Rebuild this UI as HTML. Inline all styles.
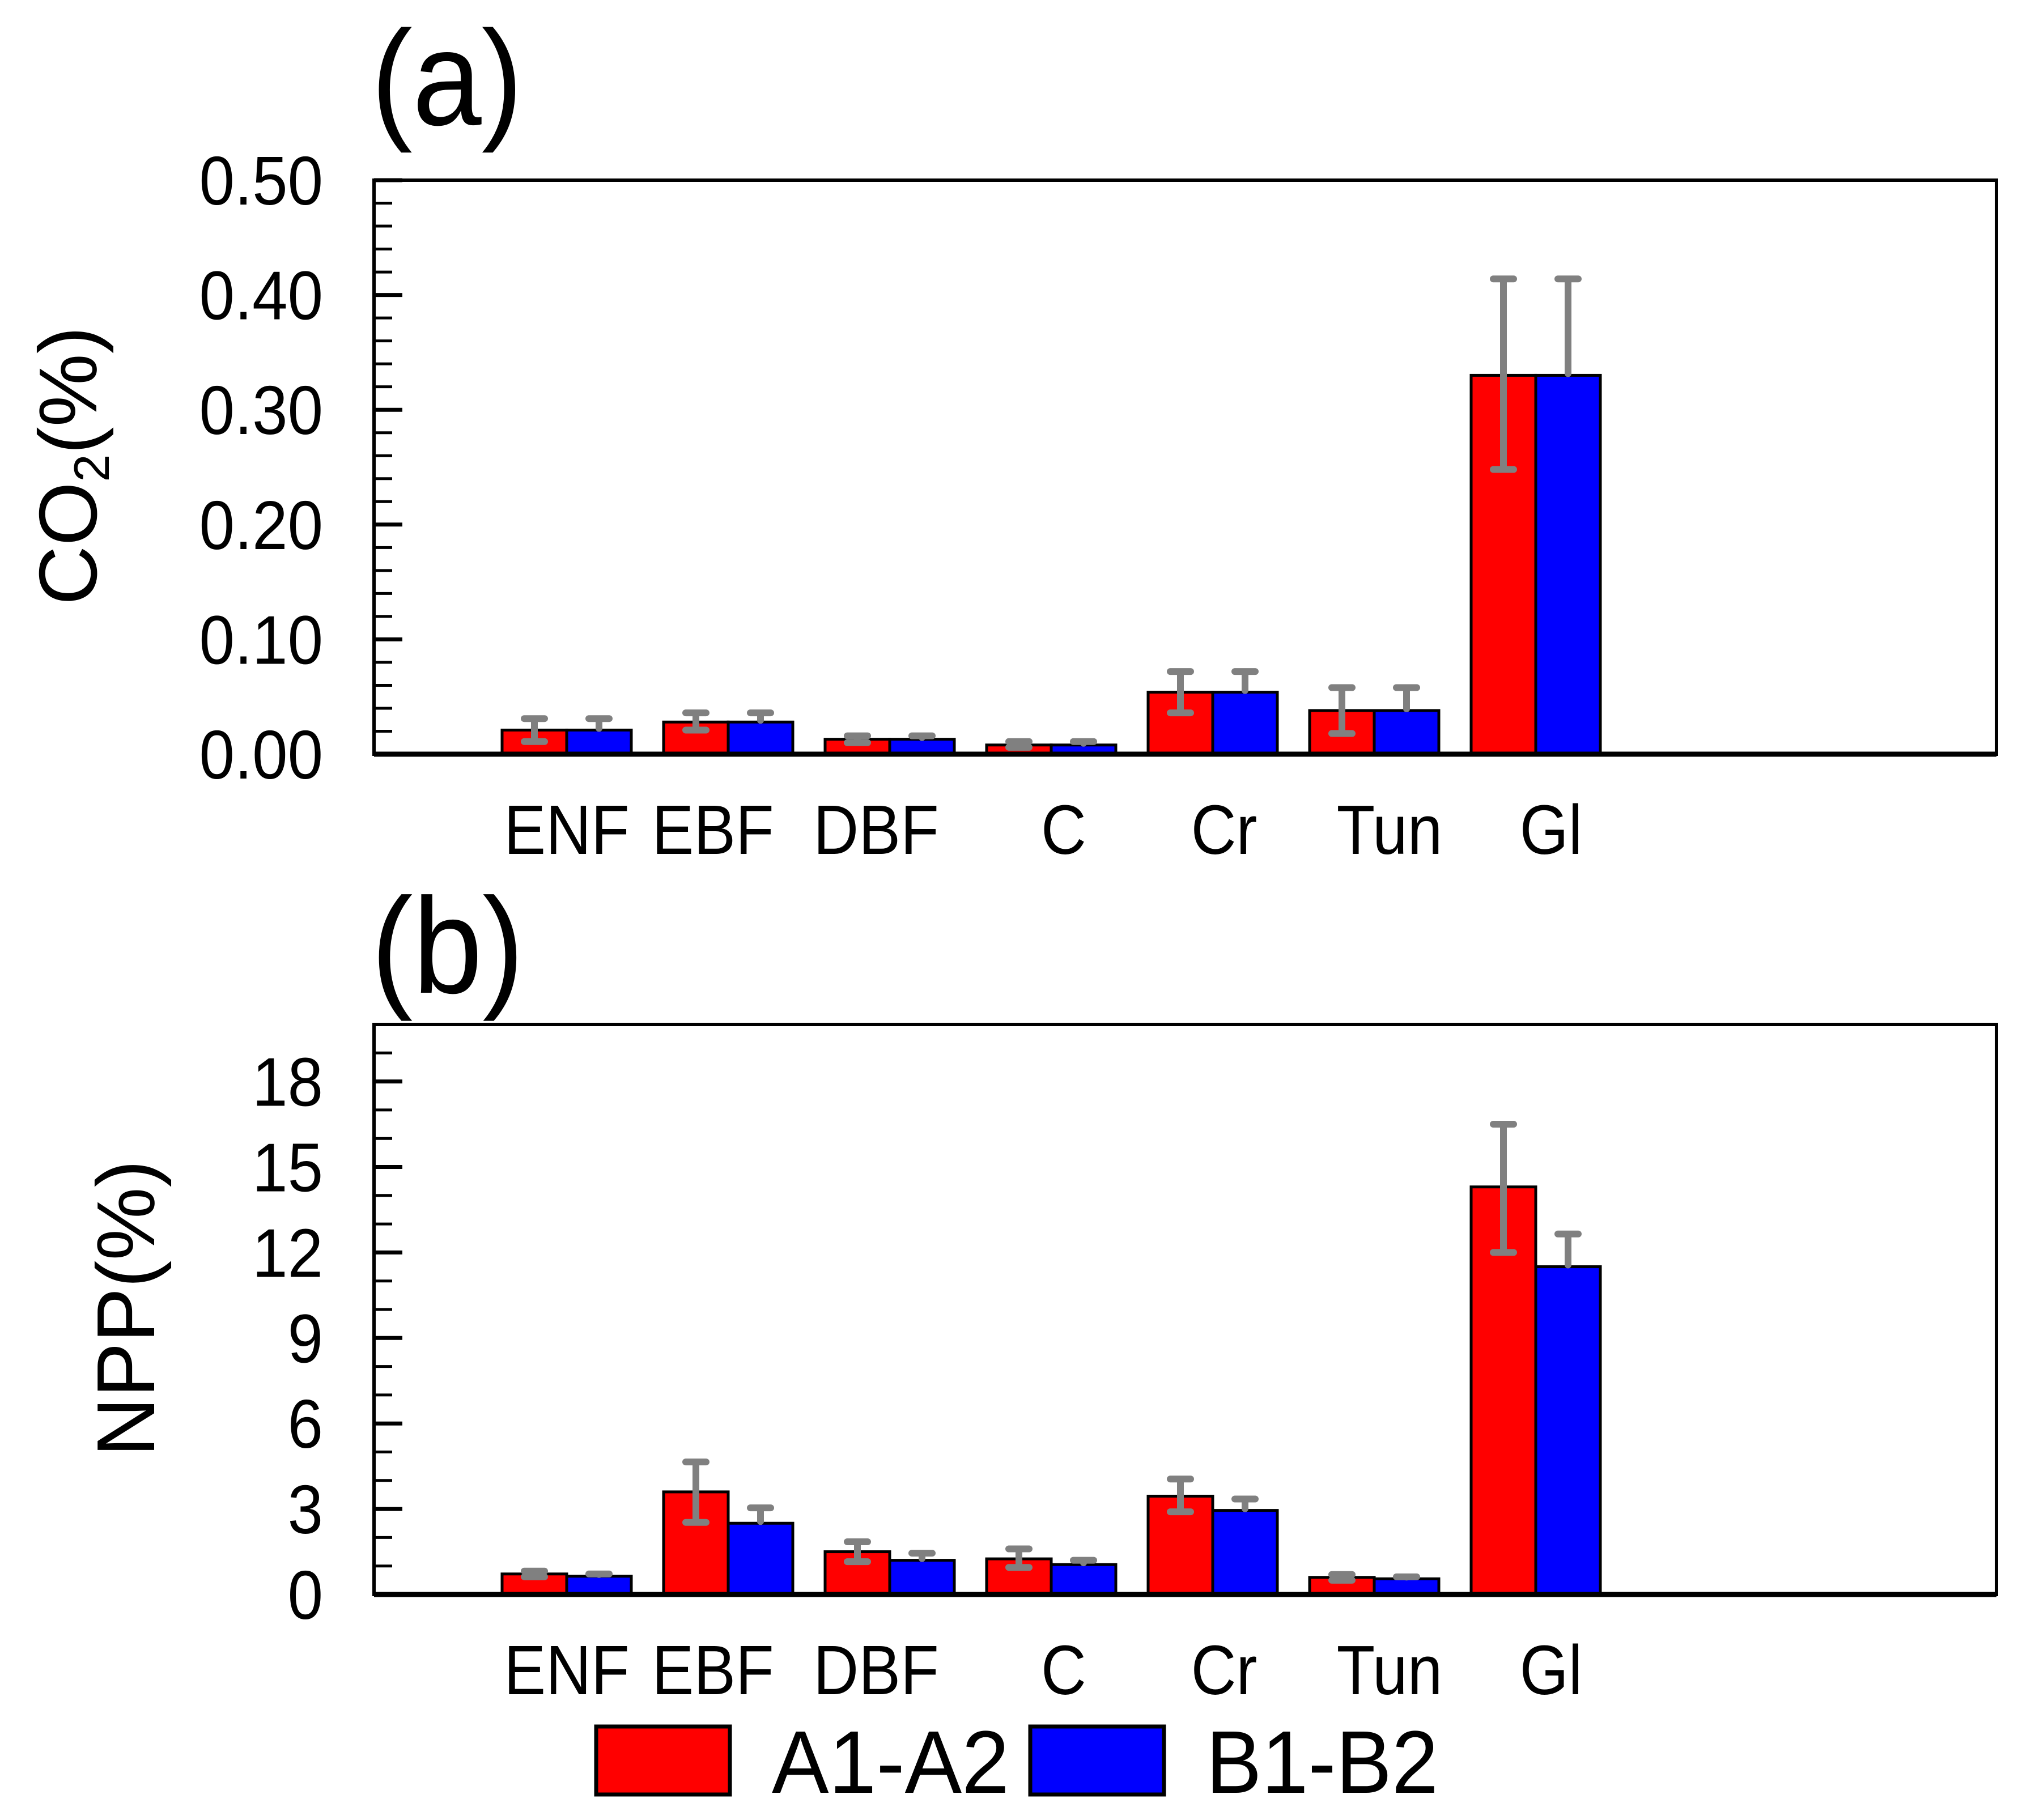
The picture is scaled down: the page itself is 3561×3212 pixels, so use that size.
<!DOCTYPE html>
<html><head><meta charset="utf-8"><style>
html,body{margin:0;padding:0;background:#fff;}
svg{display:block;font-family:"Liberation Sans",Arial,sans-serif;}
</style></head><body>
<svg id="chart" xmlns="http://www.w3.org/2000/svg" width="3561" height="3212" viewBox="0 0 3561 3212">
<rect x="0" y="0" width="3561" height="3212" fill="#fff"/>
<text transform="translate(655,220) scale(0.92,1)" font-size="238">(a)</text>
<text transform="translate(655,1752) scale(0.92,1)" font-size="240">(b)</text>
<text transform="translate(170,822) rotate(-90)" text-anchor="middle" font-size="145">CO<tspan font-size="88" dy="22">2</tspan><tspan dy="-22">(%)</tspan></text>
<text transform="translate(272,2309) rotate(-90)" text-anchor="middle" font-size="145">NPP(%)</text>
<g>
<rect x="1052" y="3047" width="236" height="120" fill="#ff0000" stroke="#000" stroke-width="7"/>
<text x="1362" y="3164" font-size="157" textLength="419" lengthAdjust="spacingAndGlyphs">A1-A2</text>
<rect x="1818" y="3047" width="236" height="120" fill="#0000ff" stroke="#000" stroke-width="7"/>
<text x="2128" y="3164" font-size="157" textLength="410" lengthAdjust="spacingAndGlyphs">B1-B2</text>
</g>
</svg>
<script>
const categories = ["ENF","EBF","DBF","C","Cr","Tun","Gl"];
const co2A = [0.021,0.028,0.013,0.008,0.054,0.038,0.330];
const co2ALo = [0.011,0.021,0.010,0.006,0.036,0.018,0.248];
const co2AHi = [0.031,0.036,0.016,0.011,0.072,0.058,0.414];
const co2B = [0.021,0.028,0.013,0.008,0.054,0.038,0.330];
const co2BHi = [0.031,0.036,0.016,0.011,0.072,0.058,0.414];
const nppA = [0.72,3.6,1.5,1.25,3.45,0.6,14.3];
const nppALo = [0.62,2.53,1.15,0.95,2.9,0.5,12.0];
const nppAHi = [0.82,4.65,1.85,1.6,4.05,0.7,16.5];
const nppB = [0.64,2.5,1.2,1.05,2.95,0.55,11.5];
const nppBHi = [0.72,3.04,1.45,1.2,3.35,0.62,12.65];
const co2Ticks = [0,0.1,0.2,0.3,0.4,0.5];
const co2TickLabels = ["0.00","0.10","0.20","0.30","0.40","0.50"];
const nppTicks = [0,3,6,9,12,15,18];
const nppTickLabels = ["0","3","6","9","12","15","18"];
const labelShift = [0,-27,-24,22,20,27,27];

const NS="http://www.w3.org/2000/svg";
const svg=document.getElementById('chart');
function mk(tag,attrs,parent){const e=document.createElementNS(NS,tag);for(const k in attrs)e.setAttribute(k,attrs[k]);(parent||svg).appendChild(e);return e;}

const L=660,R=3523,step=285,x0=1000,bw=114;
function xc(i){return x0+i*step;}

function panel(name,top,bottom,ymax,minorStep,A,ALo,AHi,B,BHi,ticks,tickLabels,labelBase){
  const y=v=>bottom-(v/ymax)*(bottom-top);
  const g=mk('g',{});
  
  
  const n=Math.round(ymax/minorStep);
  for(let k=1;k<n;k++){
    const v=k*minorStep;
    const t=mk('line',{x1:L,x2:L+32,y1:y(v),y2:y(v),stroke:'#000','stroke-width':5},g);
    
    
  }
  ticks.forEach((v,i)=>{
    const t=mk('line',{x1:L,x2:L+50,y1:y(v),y2:y(v),stroke:'#000','stroke-width':7},g);
    
    
    const tx=mk('text',{transform:`translate(570,${y(v)+43}) scale(0.92,1)`,'text-anchor':'end','font-size':122},g);
    tx.textContent=tickLabels[i];
    
    
  });
  categories.forEach((c,i)=>{
    const ra=mk('rect',{x:xc(i)-bw,y:y(A[i]),width:bw,height:y(0)-y(A[i]),fill:'#ff0000',stroke:'#000','stroke-width':5},g);
    
    
    const rb=mk('rect',{x:xc(i),y:y(B[i]),width:bw,height:y(0)-y(B[i]),fill:'#0000ff',stroke:'#000','stroke-width':5},g);
    
    
    const xa=xc(i)-bw/2, xb=xc(i)+bw/2;
    const ea=mk('path',{d:`M${xa},${y(ALo[i])}V${y(AHi[i])}M${xa-18},${y(AHi[i])}H${xa+18}M${xa-18},${y(ALo[i])}H${xa+18}`,stroke:'#808080','stroke-width':12,'stroke-linecap':'round',fill:'none'},g);
    
    
    const eb=mk('path',{d:`M${xb},${y(B[i])-3}V${y(BHi[i])}M${xb-18},${y(BHi[i])}H${xb+18}`,stroke:'#808080','stroke-width':12,'stroke-linecap':'round',fill:'none'},g);
    
    
    const lt=mk('text',{transform:`translate(${xc(i)+labelShift[i]},${labelBase}) scale(0.9,1)`,'text-anchor':'middle','font-size':123},g);
    lt.textContent=c;
    
    
  });
  const fr=mk('rect',{x:L,y:top,width:R-L,height:bottom-top,fill:'none',stroke:'#000','stroke-width':6},g);
  
  
  const ax=mk('line',{x1:L,x2:R,y1:bottom,y2:bottom,stroke:'#000','stroke-width':9},g);
  
  
}
panel('co2',318,1331,0.5,0.02,co2A,co2ALo,co2AHi,co2B,co2BHi,co2Ticks,co2TickLabels,1507);
panel('npp',1808,2814,20,1,nppA,nppALo,nppAHi,nppB,nppBHi,nppTicks,nppTickLabels,2990);
</script>
</body></html>
